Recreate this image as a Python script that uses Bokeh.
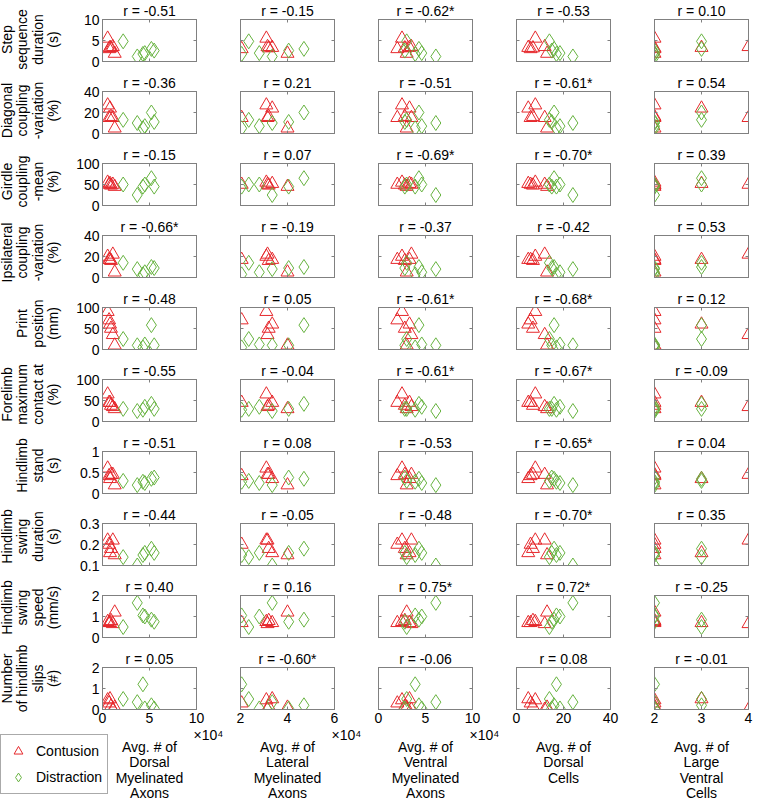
import numpy as np
from bokeh.plotting import figure
from bokeh.models import Range1d, FixedTicker, LinearAxis, Legend, LegendItem, CustomLabelingPolicy
from bokeh.layouts import row, column
from bokeh.embed import file_html
from bokeh.resources import INLINE
from bokeh.core.properties import value

FONT = "Liberation Sans"
RED = "#e6282c"
GREEN = "#67b340"
GRAY = "#808080"

# ---------------- x variables (columns) ----------------
col_names = [
    ["Avg. # of", "Dorsal", "Myelinated", "Axons"],
    ["Avg. # of", "Lateral", "Myelinated", "Axons"],
    ["Avg. # of", "Ventral", "Myelinated", "Axons"],
    ["Avg. # of", "Dorsal", "Cells"],
    ["Avg. # of", "Large", "Ventral", "Cells"],
]
col_ranges = [(0, 100000), (20000, 60000), (0, 100000), (0, 40), (2, 4)]
col_ticks = [[0, 50000, 100000], [20000, 40000, 60000], [0, 50000, 100000], [0, 20, 40], [2, 3, 4]]
col_tick_labels = [["0", "5", "10"], ["2", "4", "6"], ["0", "5", "10"], ["0", "20", "40"], ["2", "3", "4"]]
col_exponent = ["×10⁴", "×10⁴", "×10⁴", "", ""]

# x values per animal (Contusion: 6 animals, Distraction: 6 animals)
contusion_dorsal_axons = [5500, 7000, 8000, 9000, 11000, 13000]
contusion_lateral_axons = [31000, 20500, 33500, 32000, 31500, 40000]
contusion_ventral_axons = [25000, 20000, 33000, 28000, 35000, 30000]
contusion_dorsal_cells = [8, 6, 5, 7, 12, 13]
contusion_large_ventral = [2, 2, 3, 2, 4, 2]

distraction_dorsal_axons = [22000, 37000, 43000, 45000, 52000, 55000]
distraction_lateral_axons = [23500, 33500, 20500, 28000, 47000, 40500]
distraction_ventral_axons = [30000, 61000, 39000, 46000, 43000, 28000]
distraction_dorsal_cells = [14, 24, 17, 18.5, 16, 15]
distraction_large_ventral = [3, 2, 2, 2, 3, 2]

contusion_x = [contusion_dorsal_axons, contusion_lateral_axons, contusion_ventral_axons,
               contusion_dorsal_cells, contusion_large_ventral]
distraction_x = [distraction_dorsal_axons, distraction_lateral_axons, distraction_ventral_axons,
                 distraction_dorsal_cells, distraction_large_ventral]

# ---------------- y variables (rows) ----------------
row_names = [
    ["Step", "sequence", "duration", "(s)"],
    ["Diagonal", "coupling", "-variation", "(%)"],
    ["Girdle", "coupling", "-mean", "(%)"],
    ["Ipsilateral", "coupling", "-variation", "(%)"],
    ["Print", "position", "(mm)"],
    ["Forelimb", "maximum", "contact at", "(%)"],
    ["Hindlimb", "stand", "(s)"],
    ["Hindlimb", "swing", "duration", "(s)"],
    ["Hindlimb", "swing", "speed", "(mm/s)"],
    ["Number", "of hindlimb", "slips", "(#)"],
]
row_ranges = [(0, 10), (0, 40), (0, 100), (0, 40), (0, 100), (0, 100), (0, 1), (0.1, 0.3), (0, 2), (0, 2)]
row_ticks = [[0, 5, 10], [0, 20, 40], [0, 50, 100], [0, 20, 40], [0, 50, 100], [0, 50, 100],
             [0, 0.5, 1], [0.1, 0.2, 0.3], [0, 1, 2], [0, 1, 2]]
row_tick_labels = [["0", "5", "10"], ["0", "20", "40"], ["0", "50", "100"], ["0", "20", "40"],
                   ["0", "50", "100"], ["0", "50", "100"], ["0", "0.5", "1"], ["0.1", "0.2", "0.3"],
                   ["0", "1", "2"], ["0", "1", "2"]]

step_duration_c = [5.5, 3.0, 3.3, 3.2, 3.5, 1.9]
step_duration_d = [4.8, 1.2, 1.8, 2.0, 3.0, 2.6]
diag_var_c = [27, 15, 24, 16, 15, 5]
diag_var_d = [13, 10, 5, 7, 20, 11]
girdle_mean_c = [55, 50, 52, 48, 50, 45]
girdle_mean_d = [50, 25, 45, 50, 65, 45]
ipsi_var_c = [20, 17, 17, 16, 22, 5]
ipsi_var_d = [14, 8, 3, 5, 10, 9]
print_pos_c = [90, 70, 60, 50, 35, 10]
print_pos_d = [25, 10, 5, 12, 58, 10]
fore_contact_c = [65, 45, 45, 38, 35, 30]
fore_contact_d = [30, 25, 28, 35, 42, 30]
hind_stand_c = [0.6, 0.42, 0.35, 0.45, 0.45, 0.2]
hind_stand_d = [0.3, 0.2, 0.28, 0.25, 0.35, 0.38]
swing_dur_c = [0.22, 0.20, 0.16, 0.18, 0.22, 0.15]
swing_dur_d = [0.14, 0.10, 0.15, 0.16, 0.18, 0.16]
swing_speed_c = [0.75, 0.7, 0.7, 0.8, 0.65, 1.2]
swing_speed_d = [0.5, 1.65, 1.05, 1.0, 0.85, 0.75]
slips_c = [0.45, 0.3, 0.5, 0.15, 0.0, 0.1]
slips_d = [0.5, 0.35, 1.2, 0.05, 0.2, 0.05]

contusion_y = [step_duration_c, diag_var_c, girdle_mean_c, ipsi_var_c, print_pos_c,
               fore_contact_c, hind_stand_c, swing_dur_c, swing_speed_c, slips_c]
distraction_y = [step_duration_d, diag_var_d, girdle_mean_d, ipsi_var_d, print_pos_d,
                 fore_contact_d, hind_stand_d, swing_dur_d, swing_speed_d, slips_d]

r_values = [
    ["-0.51", "-0.15", "-0.62*", "-0.53", "0.10"],
    ["-0.36", "0.21", "-0.51", "-0.61*", "0.54"],
    ["-0.15", "0.07", "-0.69*", "-0.70*", "0.39"],
    ["-0.66*", "-0.19", "-0.37", "-0.42", "0.53"],
    ["-0.48", "0.05", "-0.61*", "-0.68*", "0.12"],
    ["-0.55", "-0.04", "-0.61*", "-0.67*", "-0.09"],
    ["-0.51", "0.08", "-0.53", "-0.65*", "0.04"],
    ["-0.44", "-0.05", "-0.48", "-0.70*", "0.35"],
    ["0.40", "0.16", "0.75*", "0.72*", "-0.25"],
    ["0.05", "-0.60*", "-0.06", "0.08", "-0.01"],
]

# ---------------- layout geometry ----------------
FW, FH = 94, 42
TOP = 18
row_heights = [71, 71, 71, 71, 71, 71, 71, 71, 71]
LAST_BOTTOM = 18
left_b = [38, 22, 22, 22, 22]
right_b = [22, 22, 22, 22, 6]
LABEL_W = 64
BOTTOM_H = 73
TOTAL_W = 754


def style_axis(ax, ticks, labels, show):
    ax.ticker = FixedTicker(ticks=ticks)
    ax.major_label_overrides = {t: l for t, l in zip(ticks, labels)}
    ax.axis_line_color = GRAY
    ax.major_tick_line_color = GRAY
    ax.major_tick_in = 3
    ax.major_tick_out = 0
    ax.minor_tick_line_color = None
    ax.major_label_text_font = FONT
    ax.major_label_text_color = "black"
    if show:
        ax.major_label_text_font_size = "14px"
        ax.major_label_standoff = 3
    else:
        ax.major_label_text_font_size = "0px"
        ax.major_label_standoff = 0
        ax.major_label_policy = CustomLabelingPolicy(code="return []")


grid_rows = []
for i in range(10):
    bottom = row_heights[i] - TOP - FH if i < 9 else LAST_BOTTOM
    figs = []
    for j in range(5):
        p = figure(frame_width=FW, frame_height=FH,
                   x_range=Range1d(*col_ranges[j]), y_range=Range1d(*row_ranges[i]),
                   min_border_left=left_b[j], min_border_right=right_b[j],
                   min_border_top=TOP, min_border_bottom=bottom,
                   toolbar_location=None, output_backend="svg",
                   title="r = " + r_values[i][j])
        p.title.text_font = FONT
        p.title.text_font_size = "14px"
        p.title.text_font_style = "normal"
        p.title.align = "center"
        p.title.standoff = 1
        p.title.text_color = "black"
        p.grid.visible = False
        p.outline_line_color = GRAY
        p.background_fill_color = "white"
        p.border_fill_color = "white"
        style_axis(p.xaxis[0], col_ticks[j], col_tick_labels[j], i == 9)
        style_axis(p.yaxis[0], row_ticks[i], row_tick_labels[i], j == 0)
        top_ax = LinearAxis()
        style_axis(top_ax, col_ticks[j], col_tick_labels[j], False)
        p.add_layout(top_ax, "above")
        right_ax = LinearAxis()
        style_axis(right_ax, row_ticks[i], row_tick_labels[i], False)
        p.add_layout(right_ax, "right")

        p.scatter(contusion_x[j], contusion_y[i], marker="triangle", size=13,
                  line_color=RED, fill_color=None, line_width=1)
        p.scatter(distraction_x[j], distraction_y[i], marker="diamond", size=15,
                  line_color=GREEN, fill_color=None, line_width=1)
        figs.append(p)
    grid_rows.append(row(*figs, spacing=0))

grid_h = sum(row_heights) + TOP + FH + LAST_BOTTOM

# ---------------- row labels (left) ----------------
lab = figure(width=LABEL_W, height=grid_h, x_range=Range1d(0, LABEL_W), y_range=Range1d(grid_h, 0),
             min_border=0, x_axis_location=None, y_axis_location=None,
             toolbar_location=None, output_backend="svg")
lab.grid.visible = False
lab.outline_line_color = None
line_pos = [6, 21.5, 37, 52.5]
lx, ly, lt = [], [], []
top_acc = 0
for i in range(10):
    cy = top_acc + TOP + FH / 2
    lines = row_names[i]
    offs = line_pos[4 - len(lines):]
    for k, t in enumerate(lines):
        lx.append(offs[k])
        ly.append(cy)
        lt.append(t)
    if i < 9:
        top_acc += row_heights[i]
lab.text(x=lx, y=ly, text=lt, angle=np.pi / 2, text_align="center", text_baseline="middle",
         text_font=value(FONT), text_font_size="14px", text_color="black")

# ---------------- bottom area: x labels, exponents, legend ----------------
bot = figure(width=TOTAL_W, height=BOTTOM_H, x_range=Range1d(0, TOTAL_W), y_range=Range1d(BOTTOM_H, 0),
             min_border=0, x_axis_location=None, y_axis_location=None,
             toolbar_location=None, output_backend="svg")
bot.grid.visible = False
bot.outline_line_color = None
frame_lefts = []
acc = LABEL_W
for j in range(5):
    frame_lefts.append(acc + left_b[j])
    acc += left_b[j] + FW + right_b[j]
bx, by, bt = [], [], []
for j in range(5):
    for k, t in enumerate(col_names[j]):
        bx.append(frame_lefts[j] + FW / 2)
        by.append(19 + 15.5 * k)
        bt.append(t)
bot.text(x=bx, y=by, text=bt, text_align="center", text_baseline="middle",
         text_font=value(FONT), text_font_size="14px", text_color="black")
ex = [frame_lefts[j] + FW - 3 for j in range(5) if col_exponent[j]]
ey = [7 for j in range(5) if col_exponent[j]]
et = [col_exponent[j] for j in range(5) if col_exponent[j]]
bot.text(x=ex, y=ey, text=et, text_align="left", text_baseline="middle",
         text_font=value(FONT), text_font_size="14px", text_color="black")

# legend proxies (kept outside the visible range of this text-only panel)
r1 = bot.scatter(x=[-100], y=[-100], marker="triangle", size=13, line_color=RED, fill_color=None)
r2 = bot.scatter(x=[-100], y=[-100], marker="diamond", size=15, line_color=GREEN, fill_color=None)
legend = Legend(items=[LegendItem(label="Contusion", renderers=[r1]),
                       LegendItem(label="Distraction", renderers=[r2])],
                location=(0, 6), orientation="vertical",
                label_text_font=FONT, label_text_font_size="14px", label_text_color="black",
                border_line_color="#555555", border_line_width=1,
                padding=5, spacing=4, glyph_width=24, glyph_height=22, label_height=22,
                label_standoff=6, margin=0, background_fill_color="white", background_fill_alpha=1)
bot.add_layout(legend)

layout = column(row(lab, column(*grid_rows, spacing=0), spacing=0), bot, spacing=0)

open("out.html", "w").write(file_html(layout, INLINE))
